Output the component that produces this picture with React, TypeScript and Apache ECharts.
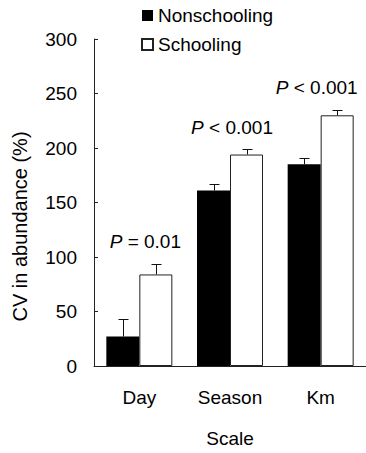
import React, { useEffect, useRef } from "react";
import * as echarts from "echarts";

const categories = ["Day", "Season", "Km"];
const nonschooling = [27, 161, 185];
const nonschoolingErr = [16, 6, 6];
const schooling = [84, 194, 230];
const schoolingErr = [10, 5, 5];
const pLabels = ["= 0.01", "< 0.001", "< 0.001"];
const yMin = 0;
const yMax = 300;
const yInterval = 50;

const FONT = "'Liberation Sans', Arial, sans-serif";
const BAR_W = 33;
const LABEL_DX = [6, 2, -4];

function errorSeries(name: string, values: number[], errs: number[], dx: number) {
  return {
    type: "custom",
    name,
    z: 5,
    data: values.map((v, i) => [i, v, errs[i]]),
    encode: { x: 0, y: 1 },
    renderItem: (params: any, api: any) => {
      const i = api.value(0);
      const v = api.value(1);
      const e = api.value(2);
      const p0 = api.coord([i, v]);
      const p1 = api.coord([i, v + e]);
      const cx = Math.round(p0[0] + dx) + 0.5;
      const yTop = Math.round(p1[1]) + 0.5;
      return {
        type: "group",
        children: [
          { type: "line", shape: { x1: cx, y1: p0[1], x2: cx, y2: yTop }, style: { stroke: "#111", lineWidth: 1 } },
          { type: "line", shape: { x1: cx - 5, y1: yTop, x2: cx + 5, y2: yTop }, style: { stroke: "#111", lineWidth: 1 } },
        ],
      };
    },
  };
}

export default function App() {
  const ref = useRef<HTMLDivElement>(null);
  useEffect(() => {
    if (!ref.current) return;
    const chart = echarts.init(ref.current, null, { renderer: "svg" });
    const tops = categories.map((_, i) =>
      Math.max(nonschooling[i] + nonschoolingErr[i], schooling[i] + schoolingErr[i])
    );
    chart.setOption({
      animation: false,
      backgroundColor: "#fff",
      textStyle: { fontFamily: FONT },
      legend: {
        data: ["Nonschooling", "Schooling"],
        orient: "vertical",
        left: 141,
        top: 6,
        padding: 0,
        itemWidth: 11,
        itemHeight: 11,
        itemGap: 10,
        icon: "rect",
        textStyle: { fontSize: 19, color: "#000", fontFamily: FONT },
      },
      grid: { left: 94, top: 39, bottom: 81, width: 277.5, containLabel: false },
      xAxis: {
        type: "category",
        data: categories,
        name: "Scale",
        nameLocation: "middle",
        nameGap: 63,
        nameTextStyle: { fontSize: 19, color: "#000", fontFamily: FONT },
        axisLine: { lineStyle: { color: "#222", width: 1 } },
        axisTick: { show: false },
        axisLabel: { fontSize: 19, color: "#000", margin: 22, fontFamily: FONT },
      },
      yAxis: {
        type: "value",
        min: yMin,
        max: yMax,
        interval: yInterval,
        name: "CV in abundance (%)",
        nameLocation: "middle",
        nameGap: 64,
        nameTextStyle: { fontSize: 20, color: "#000", fontFamily: FONT, padding: [0, 48, 0, 0] },
        axisLine: { show: true, lineStyle: { color: "#222", width: 1 } },
        axisTick: { show: true, inside: true, length: 4, lineStyle: { color: "#222" } },
        axisLabel: { fontSize: 19, color: "#000", margin: 17, fontFamily: FONT },
        splitLine: { show: false },
      },
      series: [
        {
          type: "bar",
          name: "Nonschooling",
          data: nonschooling,
          barWidth: BAR_W,
          barGap: "0%",
          itemStyle: { color: "#000", borderColor: "#000", borderWidth: 0 },
        },
        {
          type: "bar",
          name: "Schooling",
          data: schooling,
          barWidth: BAR_W,
          barGap: "0%",
          itemStyle: { color: "#fff", borderColor: "#222", borderWidth: 1 },
        },
        errorSeries("errN", nonschooling, nonschoolingErr, -BAR_W / 2),
        errorSeries("errS", schooling, schoolingErr, BAR_W / 2),
        {
          type: "custom",
          name: "pvalues",
          z: 6,
          data: tops.map((t, i) => [i, t]),
          encode: { x: 0, y: 1 },
          renderItem: (params: any, api: any) => {
            const i = api.value(0);
            const p = api.coord([i, api.value(1)]);
            return {
              type: "text",
              x: p[0] + LABEL_DX[params.dataIndex],
              y: p[1] - 22,
              style: {
                text: "{i|P} " + pLabels[params.dataIndex],
                align: "center",
                verticalAlign: "middle",
                fontSize: 19,
                fontFamily: FONT,
                fill: "#000",
                rich: {
                  i: { fontStyle: "italic", fontSize: 19, fontFamily: FONT, fill: "#000" },
                },
              },
            };
          },
        },
      ],
    });
    return () => chart.dispose();
  }, []);
  return (
    <div
      ref={ref}
      style={{ position: "fixed", left: 0, top: 0, width: 366, height: 453, background: "#fff" }}
    />
  );
}
